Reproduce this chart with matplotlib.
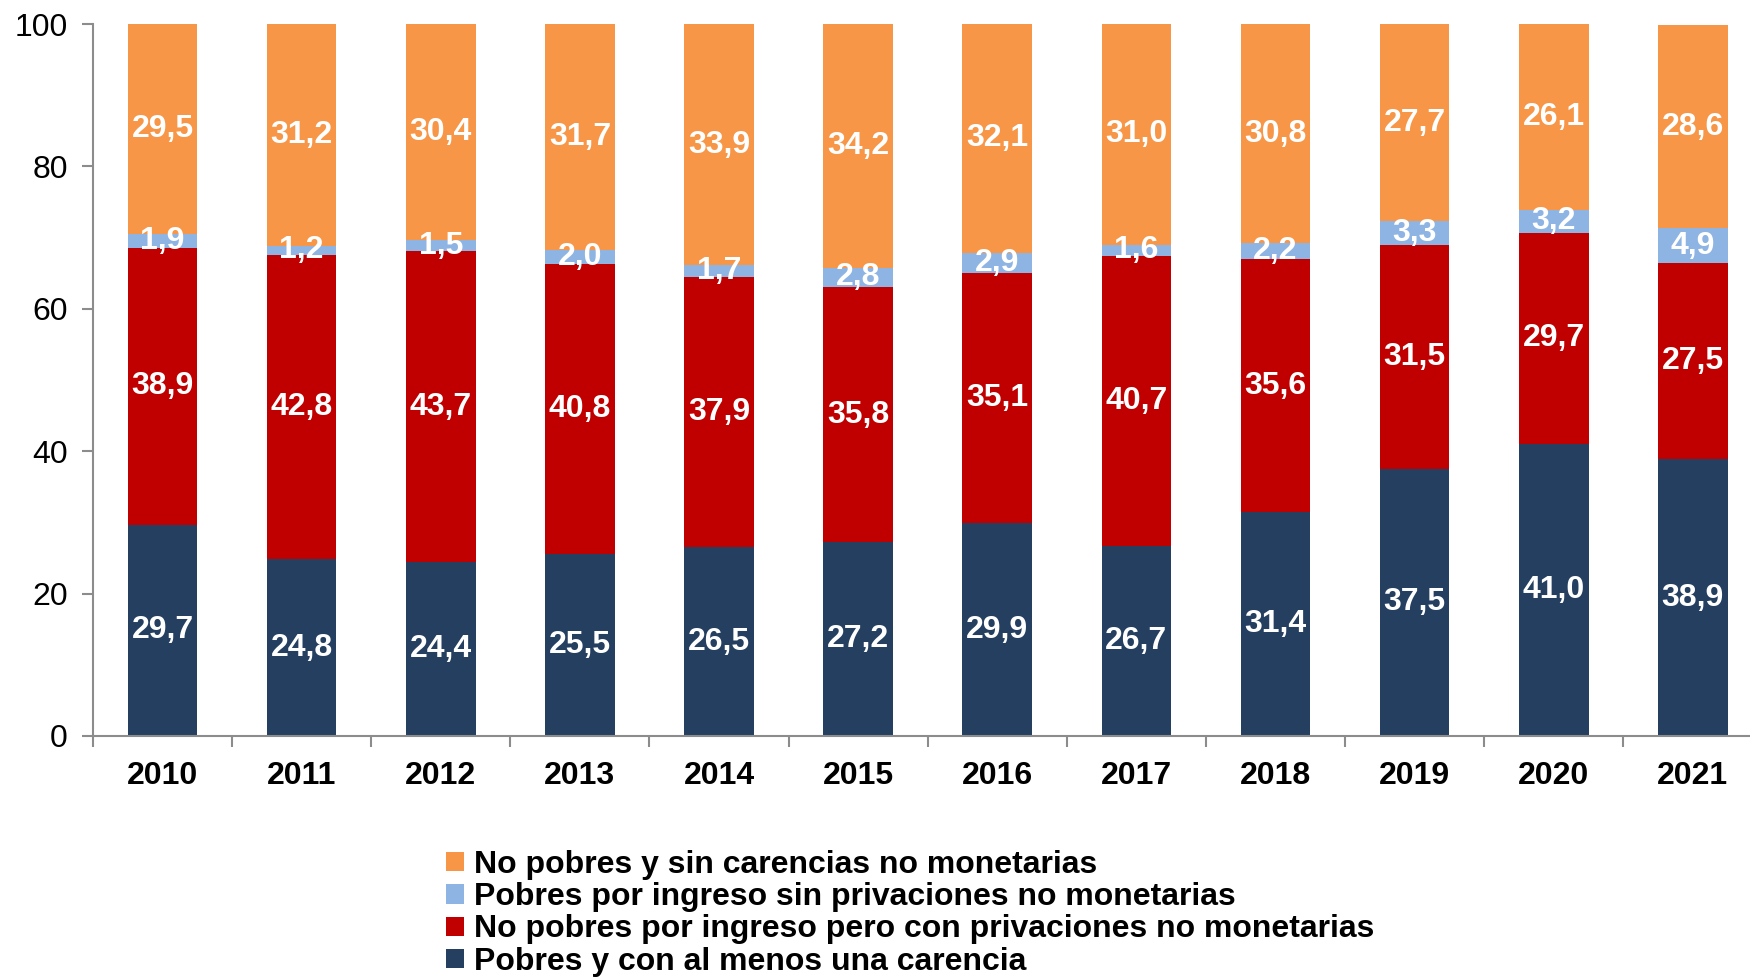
import numpy as np
import matplotlib
matplotlib.use('Agg')
import matplotlib.pyplot as plt
from matplotlib.patches import Patch

plt.rcParams['font.family'] = ['Liberation Sans', 'DejaVu Sans']

# --------------------------------------------------
# Data (percent of population)
# --------------------------------------------------
years = ['2010', '2011', '2012', '2013', '2014', '2015',
         '2016', '2017', '2018', '2019', '2020', '2021']
pobres_carencia = [29.7, 24.8, 24.4, 25.5, 26.5, 27.2, 29.9, 26.7, 31.4, 37.5, 41.0, 38.9]
no_pobres_privaciones = [38.9, 42.8, 43.7, 40.8, 37.9, 35.8, 35.1, 40.7, 35.6, 31.5, 29.7, 27.5]
pobres_sin_privaciones = [1.9, 1.2, 1.5, 2.0, 1.7, 2.8, 2.9, 1.6, 2.2, 3.3, 3.2, 4.9]
no_pobres_sin_carencias = [29.5, 31.2, 30.4, 31.7, 33.9, 34.2, 32.1, 31.0, 30.8, 27.7, 26.1, 28.6]

series_labels = ['Pobres y con al menos una carencia',
                 'No pobres por ingreso pero con privaciones no monetarias',
                 'Pobres por ingreso sin privaciones no monetarias',
                 'No pobres y sin carencias no monetarias']
series_values = [pobres_carencia, no_pobres_privaciones,
                 pobres_sin_privaciones, no_pobres_sin_carencias]
colors = ['#243F60', '#C00000', '#8EB4E3', '#F79646']

# --------------------------------------------------
# Figure
# --------------------------------------------------
fig = plt.figure(figsize=(17.5, 9.8), dpi=100)
ax = fig.add_axes([0.0531, 0.249, 0.954, 0.7265])

x = np.arange(len(years))
bottom = np.zeros(len(years))
for vals, col in zip(series_values, colors):
    vals = np.array(vals)
    ax.bar(x, vals, width=0.5, bottom=bottom, color=col, edgecolor='none')
    for xi, b, v in zip(x, bottom, vals):
        ax.text(xi, b + v / 2, f'{v:.1f}'.replace('.', ','), ha='center', va='center',
                color='white', fontsize=23, fontweight='bold')
    bottom += vals

ax.set_xlim(-0.5, len(years) - 0.5)
ax.set_ylim(0, 100)
ax.set_yticks([0, 20, 40, 60, 80, 100])
ax.tick_params(axis='y', labelsize=23, length=8, width=1.5, color='#8C8C8C', pad=10)

ax.set_xticks(x)
ax.set_xticklabels(years, fontsize=23, fontweight='bold')
ax.set_xticks(np.arange(len(years) + 1) - 0.5, minor=True)
ax.tick_params(axis='x', which='major', length=0, pad=18)
ax.tick_params(axis='x', which='minor', length=8, width=1.5, color='#8C8C8C')

for side in ['top', 'right']:
    ax.spines[side].set_visible(False)
for side in ['left', 'bottom']:
    ax.spines[side].set_color('#8C8C8C')
    ax.spines[side].set_linewidth(1.5)

handles = [Patch(facecolor=c, edgecolor='none') for c in colors[::-1]]
fig.legend(handles, series_labels[::-1], loc='upper left', bbox_to_anchor=(0.246, 0.149),
           frameon=False, handlelength=0.55, handleheight=0.55,
           handletextpad=0.3, labelspacing=0.07, borderpad=0,
           prop={'weight': 'bold', 'size': 23})

fig.savefig('out.png', dpi=100)
